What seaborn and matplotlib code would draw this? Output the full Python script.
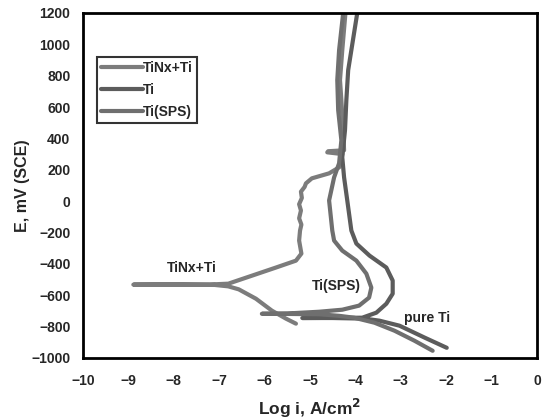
import numpy as np
import pandas as pd
import seaborn as sns
import matplotlib.pyplot as plt

# Potentiodynamic polarization curves
# log i (A/cm2) and E (mV vs SCE), traced from cathodic end -> Ecorr -> anodic end
tinx_logi = [-5.31, -5.53, -5.84, -6.19, -6.57, -6.80, -7.1, -8.0, -8.89, -8.0, -7.2,
             -6.80, -6.28, -5.75, -5.31, -5.19, -5.24, -5.22, -5.19, -5.24, -5.20, -5.24,
             -5.18, -5.20, -5.12, -5.09, -4.96, -4.58, -4.36, -4.29, -4.62, -4.60, -4.25,
             -4.27, -4.31, -4.34, -4.29, -4.22]
tinx_e = [-782, -750, -699, -623, -563, -544, -535, -533, -533, -532, -532,
          -527, -476, -424, -380, -335, -252, -188, -150, -110, -60, -20,
          20, 60, 90, 113, 145, 177, 215, 300, 311, 318, 324,
          452, 644, 772, 963, 1200]

ti_logi = [-1.99, -2.47, -3.03, -3.47, -3.80, -4.5, -5.17, -4.5, -3.85, -3.54, -3.32,
           -3.18, -3.18, -3.32, -3.69, -3.98, -4.09, -4.18, -4.25, -4.29, -4.23, -4.20,
           -4.16, -4.09, -3.96]
ti_e = [-936, -872, -795, -763, -750, -746, -746, -745, -744, -712, -655,
        -591, -507, -424, -348, -271, -188, 4, 151, 279, 452, 644,
        835, 963, 1200]

sps_logi = [-2.30, -2.70, -3.14, -3.58, -4.03, -4.36, -4.8, -5.5, -6.06, -5.5, -4.80,
            -4.29, -3.92, -3.70, -3.65, -3.76, -3.98, -4.29, -4.47, -4.51, -4.58, -4.47,
            -4.36, -4.31, -4.38, -4.40, -4.36, -4.27]
sps_e = [-955, -891, -827, -776, -744, -732, -722, -720, -719, -717, -706,
         -693, -667, -616, -552, -463, -380, -316, -252, -188, 4, 151,
         241, 388, 580, 772, 963, 1200]

labels = ["TiNx+Ti", "Ti", "Ti(SPS)"]
colors = ["#7c7c7c", "#5c5c5c", "#6f6f6f"]

frames = []
for name, xs, ys in zip(labels, [tinx_logi, ti_logi, sps_logi], [tinx_e, ti_e, sps_e]):
    d = pd.DataFrame({"logi": xs, "E": ys})
    d["sample"] = name
    frames.append(d)
df = pd.concat(frames, ignore_index=True)

sns.set_style("white")
plt.rcParams["font.family"] = ["Liberation Sans", "DejaVu Sans"]
plt.rcParams["font.weight"] = "bold"

fig = plt.figure(figsize=(5.42, 4.19), dpi=100)
ax = fig.add_axes([0.153, 0.146, 0.838, 0.823])

sns.lineplot(data=df, x="logi", y="E", hue="sample", hue_order=labels,
             palette=dict(zip(labels, colors)),
             sort=False, estimator=None, linewidth=3.0, ax=ax,
             solid_capstyle="round", solid_joinstyle="round")

ax.set_xlim(-10, 0)
ax.set_ylim(-1000, 1200)
ax.set_xticks(range(-10, 1))
ax.set_yticks(range(-1000, 1201, 200))
ax.tick_params(direction="in", length=3, color="#bbbbbb", labelsize=10)
ax.tick_params(axis="x", pad=12)
ax.tick_params(axis="y", pad=9)
for lab in ax.get_xticklabels() + ax.get_yticklabels():
    lab.set_fontweight("bold")
for s in ax.spines.values():
    s.set_linewidth(2)
    s.set_color("black")

ax.set_xlabel("Log i, A/cm$^\\mathbf{2}$", fontsize=12.5, fontweight="bold", labelpad=6)
ax.set_ylabel("E, mV (SCE)", fontsize=11.5, fontweight="bold", labelpad=1)

ax.text(-7.61, -429, "TiNx+Ti", fontsize=10, fontweight="bold", ha="center", va="center")
ax.text(-4.42, -539, "Ti(SPS)", fontsize=10, fontweight="bold", ha="center", va="center")
ax.text(-2.43, -744, "pure Ti", fontsize=10, fontweight="bold", ha="center", va="center")

leg = ax.legend(loc="upper left", bbox_to_anchor=(0.031, 0.872), frameon=True, fancybox=False,
                handlelength=3.0, handletextpad=0.0, borderpad=0.3, labelspacing=0.55,
                borderaxespad=0.0, prop={"weight": "bold", "size": 10}, title=None)
leg.get_frame().set_edgecolor("black")
leg.get_frame().set_linewidth(1.5)

fig.savefig("out.png", dpi=100)
